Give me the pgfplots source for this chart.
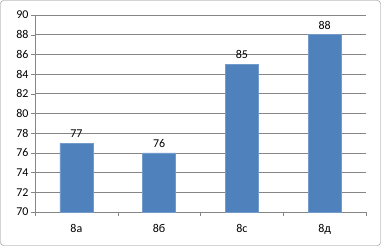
\documentclass[border=0pt]{standalone}
\usepackage{pgfplots}
\pgfplotsset{compat=1.18}
\usepackage{fontspec}
\setmainfont{Carlito}
\definecolor{barblue}{HTML}{4F81BD}
\definecolor{gridgray}{HTML}{868686}
\begin{document}
\begin{tikzpicture}[x=1bp,y=1bp]
\useasboundingbox (0,0) rectangle (381,246);
\draw[gridgray, rounded corners=3bp] (0.5,0.5) rectangle (380.5,245.5);
\begin{axis}[
  at={(35bp,34bp)}, anchor=south west,
  scale only axis, width=331bp, height=197bp,
  xmin=-0.5, xmax=3.5, ymin=70, ymax=90,
  ytick={70,72,...,90},
  xtick={0,1,2,3},
  xticklabels={8а,8б,8с,8д},
  minor xtick={-0.5,0.5,1.5,2.5,3.5},
  axis x line*=bottom, axis y line*=left,
  axis line style={gridgray,-},
  tick align=outside,
  major x tick style={draw=none},
  minor x tick style={gridgray},
  minor tick length=4bp,
  major tick length=4bp,
  y tick style={gridgray},
  ymajorgrids, major grid style={gridgray, line width=0.6pt},
  tick label style={font=\fontsize{12}{14}\selectfont, text=black},
  /pgf/number format/assume math mode=true,
  xticklabel style={yshift=-5bp},
  yticklabel style={xshift=1bp},
  ybar, bar width=33bp,
  nodes near coords,
  every node near coord/.append style={font=\fontsize{12}{14}\selectfont, text=black, yshift=2bp},
  clip=false,
]
\addplot[fill=barblue, draw=barblue!80!white] coordinates {(0,77) (1,76) (2,85) (3,88)};
\end{axis}
\end{tikzpicture}
\end{document}
